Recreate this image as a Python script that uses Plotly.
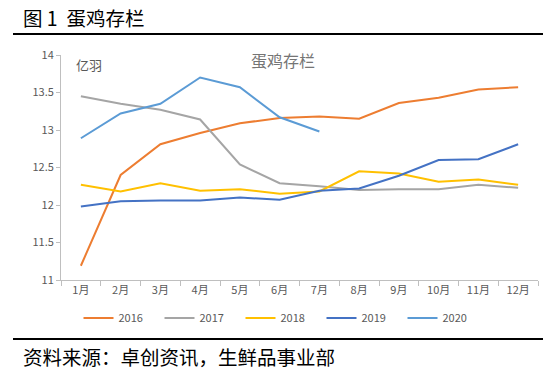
import plotly.graph_objects as go

months = ["1月", "2月", "3月", "4月", "5月", "6月", "7月", "8月", "9月", "10月", "11月", "12月"]
y2016 = [11.19, 12.40, 12.81, 12.96, 13.09, 13.16, 13.18, 13.15, 13.36, 13.43, 13.54, 13.57]
y2017 = [13.45, 13.35, 13.27, 13.14, 12.54, 12.29, 12.25, 12.20, 12.21, 12.21, 12.27, 12.23]
y2018 = [12.27, 12.18, 12.29, 12.19, 12.21, 12.15, 12.18, 12.45, 12.42, 12.31, 12.34, 12.27]
y2019 = [11.98, 12.05, 12.06, 12.06, 12.10, 12.07, 12.19, 12.22, 12.39, 12.60, 12.61, 12.81]
y2020 = [12.89, 13.22, 13.35, 13.70, 13.57, 13.17, 12.98]
series_names = ["2016", "2017", "2018", "2019", "2020"]
series_values = [y2016, y2017, y2018, y2019, y2020]
colors = ["#ED7D31", "#A5A5A5", "#FFC000", "#4472C4", "#5B9BD5"]

FONT = "Noto Sans CJK SC, Arial, sans-serif"

fig = go.Figure()
for name, vals, c in zip(series_names, series_values, colors):
    fig.add_trace(go.Scatter(x=months[:len(vals)], y=vals, name=name, mode="lines",
                             line=dict(color=c, width=2)))

FW, FH = 550, 373
# plot area in window pixels: x 61..538, y 55..280
L, R, T, B = 61, 538, 55, 280
W, H = R - L, B - T
def px(x):
    return (x - L) / W
def py(y):
    return (B - y) / H

fig.update_layout(
    width=FW, height=FH,
    margin=dict(l=L, r=FW - R, t=T, b=FH - B),
    paper_bgcolor="white", plot_bgcolor="white",
    font=dict(family=FONT, size=11, color="#595959"),
    showlegend=True,
    legend=dict(orientation="h", x=px(281), xanchor="center", y=py(318), yanchor="middle",
                font=dict(size=11, color="#595959"), itemwidth=30,
                entrywidth=36, entrywidthmode="pixels", bgcolor="rgba(0,0,0,0)"),
    xaxis=dict(type="category", showgrid=False, showline=True, linecolor="#BFBFBF", linewidth=1,
               ticks="outside", tickson="boundaries", ticklen=5, tickcolor="#BFBFBF",
               tickfont=dict(size=11, color="#595959"), range=[-0.5, 11.5]),
    yaxis=dict(range=[11, 14], dtick=0.5, showgrid=False, showline=True, linecolor="#BFBFBF",
               linewidth=1, ticks="outside", ticklen=4, tickcolor="#BFBFBF",
               tickfont=dict(size=11, color="#595959"), zeroline=False),
)

fig.add_annotation(x=px(283), y=py(60), xref="paper", yref="paper", text="蛋鸡存栏",
                   showarrow=False, font=dict(size=16, color="#757575", family=FONT),
                   xanchor="center", yanchor="middle")
fig.add_annotation(x=px(74), y=py(65), xref="paper", yref="paper", text="亿羽",
                   showarrow=False, font=dict(size=13, color="#595959", family=FONT),
                   xanchor="left", yanchor="middle")
fig.add_annotation(x=px(21), y=py(17), xref="paper", yref="paper", text="图 1  蛋鸡存栏",
                   showarrow=False, font=dict(size=19.5, color="#000000", family=FONT),
                   xanchor="left", yanchor="middle")
fig.add_annotation(x=px(21), y=py(356), xref="paper", yref="paper", text="资料来源：卓创资讯，生鲜品事业部",
                   showarrow=False, font=dict(size=19.5, color="#000000", family=FONT),
                   xanchor="left", yanchor="middle")
fig.add_shape(type="line", xref="paper", yref="paper", x0=px(13), x1=px(543), y0=py(34), y1=py(34),
              line=dict(color="#000000", width=2))
fig.add_shape(type="line", xref="paper", yref="paper", x0=px(13), x1=px(543), y0=py(339), y1=py(339),
              line=dict(color="#000000", width=2))

# remove the default page margin so the figure fills the 550x373 window exactly
fig.write_html("out.html", config={"displayModeBar": False},
               post_script="document.body.style.margin='0px';")
